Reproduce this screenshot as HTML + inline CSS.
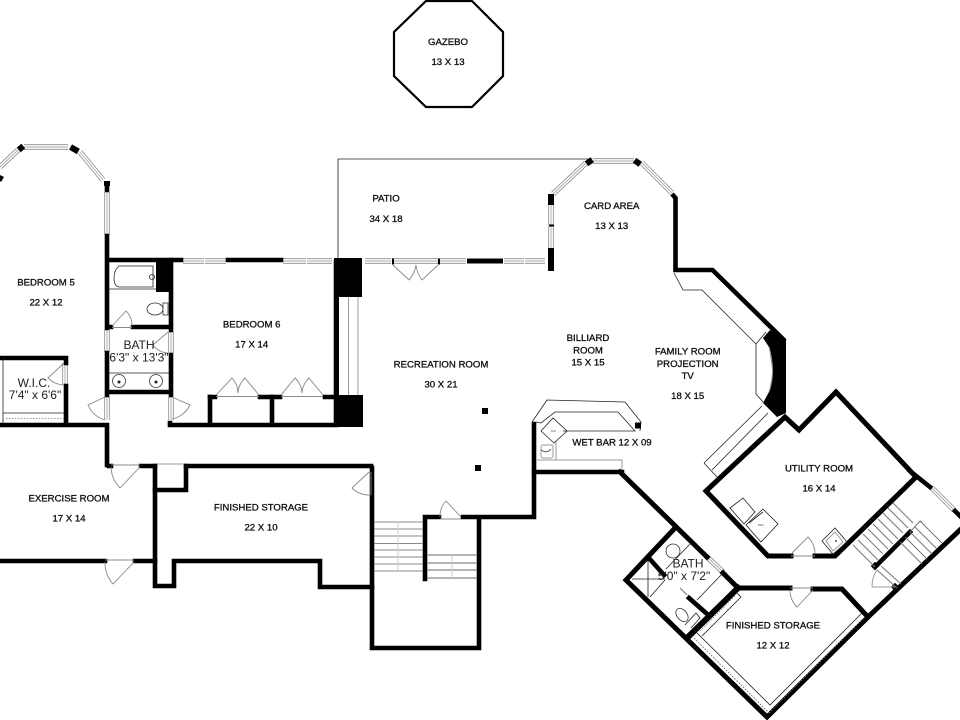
<!DOCTYPE html>
<html>
<head>
<meta charset="utf-8">
<style>
html,body{margin:0;padding:0;background:#fff;width:960px;height:720px;overflow:hidden}
svg{display:block}
text{font-family:"Liberation Sans",sans-serif;font-size:9.6px;fill:#111;stroke:#111;stroke-width:.32;text-anchor:middle}
text.n{font-size:12px;stroke:none;fill:#222}
text.t{font-size:3px;stroke:none;fill:#555}
.w{fill:none;stroke:#000;stroke-width:4.6;stroke-linejoin:miter;stroke-linecap:square}
.b{fill:#000;stroke:none}
.l{fill:none;stroke:#222;stroke-width:.8}
.g{fill:none;stroke:#999;stroke-width:1}
.d{fill:#fff;stroke:#888;stroke-width:.8}
.w1{fill:none;stroke:#8a8a8a;stroke-width:5.4}
.w2{fill:none;stroke:#fff;stroke-width:3.8}
.w3{fill:none;stroke:#aaa;stroke-width:.9}
.dot{fill:none;stroke:#777;stroke-width:.8;stroke-dasharray:1.5 1.5}
</style>
</head>
<body>
<svg width="960" height="720" viewBox="0 0 960 720" xmlns="http://www.w3.org/2000/svg">
<rect width="960" height="720" fill="#fff"/>
<defs>
<path id="win" d="M0 167L18 150M24 147H68M80 152L103 180M107 192V213M107 213V235M107 330V352M107 397V420M171 332V353M171 397V420M183 261H204M205 261H226M283 261H306M307 261H332M65 363V385M365 261H391M392 261H439M440 261H466M504 261H524M525 261H545M551 205V225M551 226V248M553 194L586 163M593 161H634M642 163L672 193M932 488L954 510M706 556L723 572"/>
</defs>

<!-- gazebo -->
<polygon points="426,1 472,1 503,32 503,76 472,107 426,107 394,76 394,32" fill="#fff" stroke="#000" stroke-width="2.2"/>

<!-- patio -->
<path d="M338 259V159H590" class="l" stroke-width="1"/>

<!-- windows -->
<use href="#win" class="w1"/>
<use href="#win" class="w2"/>
<use href="#win" class="w3"/>

<!-- walls: north west -->
<path class="w" d="M107 184V190M107 236V328M107 353V395"/>
<path class="w" d="M109 260H181M228 260H281"/>
<path class="w" d="M171 260V330M171 355V395"/>
<path class="w" d="M109 327H111M133 327H169"/>
<path class="w" d="M109 392H169"/>
<path class="w" d="M0 425H107V465M170 423V425H336"/>
<path class="w" d="M0 358H66V363M66 386V423"/>
<path class="w" d="M210 397V423M272 397V423M336 262V423"/>
<path class="w" d="M210 397H215M260 397H280M325 397H334"/>
<rect class="b" x="156" y="258" width="17" height="34"/>
<rect class="b" x="18" y="145" width="6" height="6" transform="rotate(-40 21 148)"/>
<rect class="b" x="70" y="146" width="9" height="6" transform="rotate(30 74 149)"/>
<rect class="b" x="104" y="181" width="6" height="5"/>
<polygon class="b" points="0,175 4,177 1,182 0,181"/>

<!-- central blocks -->
<rect class="b" x="334" y="258" width="28" height="39"/>
<rect class="b" x="334" y="395" width="29" height="32"/>
<rect class="b" x="334" y="297" width="5" height="98"/>
<path class="g" d="M348.5 297V395M358 297V395"/>
<rect class="b" x="467" y="258.5" width="36" height="5"/>
<rect class="b" x="392" y="258.5" width="2" height="6"/>
<rect class="b" x="438" y="258.5" width="2" height="6"/>
<rect class="b" x="548" y="248" width="6" height="23"/>
<rect class="b" x="548" y="194" width="6" height="11"/>
<rect class="b" x="549" y="224.5" width="5" height="2"/>
<rect class="b" x="586" y="159" width="7" height="6" transform="rotate(-35 589 162)"/>
<rect class="b" x="634" y="159" width="7" height="6" transform="rotate(35 637 162)"/>

<!-- east wall -->
<path class="w" d="M672 194L675.500 198V270H712.500L785 341" style="stroke-linecap:butt"/>
<polygon class="b" points="770,330 786,340 786,413 777,417 763,403 769,392 773,373 769,347 763,338"/>
<path class="l" d="M674 273L683 290H702L756 344V394L764 403M756 344L766 332"/>
<path class="g" d="M769 347Q776 372 769 392"/>
<path class="l" d="M704 463L762 406M712 470L768 413M704 463L717 477"/>

<!-- utility room -->
<path class="w" style="stroke-width:5" d="M791 556H768L706 491L785 417L799 430L836 392L916 477L835 556H815"/>
<path class="w" d="M910 471L930 487M955 511L960 516"/>
<path class="w" style="stroke-width:5" d="M962 528L868 617"/>
<path class="w" d="M910 532L875 567"/>
<rect class="b" x="872" y="563" width="6" height="6" transform="rotate(45 875 566)"/>
<rect class="b" x="892" y="584" width="6" height="6" transform="rotate(45 895 587)"/>

<!-- utility appliances -->
<polygon class="l" points="730,508 743,498 755,512 744,524" fill="#fff"/>
<polygon class="l" points="746,525 763,509 778,524 761,542" fill="#fff"/>
<path class="l" d="M749 523L763 512"/>
<text class="t" x="761" y="526">REF</text>
<polygon class="l" points="822,541 835,528 847,542 833,554"/>
<polygon class="g" points="826,541 835,532 843,542 833,551"/>
<circle cx="836" cy="541" r=".9" fill="#222"/>

<!-- stairs east -->
<path class="g" style="stroke:#777" d="M893 503L913 523M888 508L908 528M883 513L903 533M878 519L898 539M873 524L893 544M868 529L888 549M863 534L883 554M858 540L878 560M853 545L875 567M920 521L942 543M915 527L937 549M910 532L932 554M905 537L927 559M900 542L922 564"/>
<path class="g" style="stroke:#777" d="M910 532L920 521L922 522M877 570L897 588M881 566L901 584"/>
<path class="g" fill="none" d="M872 587H895M872 587Q872 577 877 570"/>

<!-- south east: lower storage and bath -->
<path class="w" style="stroke-width:5" d="M620 472L707 557M723 573L738 588H790M813 589H842L868 617L767 717L626 580L675 528"/>
<path class="w" style="stroke-width:6" d="M738 588L688 637"/>
<path class="w" d="M648 557L664 575M689 598L706 613"/>
<path class="l" d="M666 569L691 543M697 600L723 573M650 597L665 580M632 579H665M648 560V597"/>
<path class="g" style="stroke-width:1.5" d="M680 588L687 595"/>
<circle cx="673" cy="551" r="7" fill="#fff" stroke="#333" stroke-width=".8"/>
<ellipse cx="682" cy="615" rx="5" ry="7.500" fill="#fff" stroke="#333" stroke-width=".8" transform="rotate(-40 682 615)"/>
<path class="l" d="M685 625L696 613L700 618L691 628"/>
<path class="l" d="M736 592L741 597L702 636M695 631L770 705L862 613"/>
<path class="dot" d="M735 596L700 631M692 636L769 713M769 713L865 617"/>
<path class="dot" d="M692 636L768 712"/>

<!-- south center walls -->
<path class="w" d="M534 424V517H463M439 517H425V579"/>
<path class="w" d="M479 519V648H372V468"/>
<path class="w" d="M534 472H622"/>
<path class="w" d="M141 466H155M186 466V490H155V586H174V561H320V587H372"/>
<path class="w" d="M0 561H105M135 561H155"/>
<path class="w" d="M155 466V490M109 466H111M186 466H371"/>
<path class="g" d="M157 464H184"/>
<path class="g" style="stroke:#888" d="M374 522H423M374 529H423M374 536H423M374 543.500H423M374 550H423M374 557H423M374 564H423M374 571H423"/>
<path class="g" style="stroke:#888;stroke-width:1.200" d="M427 555H477M427 563H477M427 570H477M427 578H477"/>
<path class="g" style="stroke:#ccc" d="M398 522V571M452 555V578"/>

<!-- columns -->
<rect class="b" x="482" y="408" width="6" height="6"/>
<rect class="b" x="475" y="465" width="6" height="6"/>

<!-- wet bar -->
<path class="l" d="M532 422L547 400L625 402L641 422L640 431M536 422L541 423L555 412H618L635 431H563"/>
<rect class="b" x="635" y="422.500" width="6" height="6"/>
<polygon class="l" points="541,431 553,418 567,431 554,443" fill="#fff"/>
<text class="t" x="553.500" y="432">DW</text>
<rect x="541" y="445" width="12" height="13" rx="2" class="g"/>
<path class="g" style="stroke:#555" d="M541 450Q547 454 551 449"/>
<path class="g" d="M556 442V460M537 460H622V470"/>

<!-- bath fixtures NW -->
<path class="l" d="M109 289H156M153 266H119Q114 270 114 278Q114 286 119 287H153Z"/>
<circle cx="152" cy="277" r="2.500" class="l"/>
<ellipse cx="155" cy="309" rx="8" ry="6" fill="#fff" stroke="#333" stroke-width=".8"/>
<rect x="163" y="303" width="5" height="12" fill="#fff" stroke="#333" stroke-width=".8"/>
<path class="l" d="M109 373H169"/>
<circle cx="119" cy="381" r="6.500" fill="#fff" stroke="#333" stroke-width=".8"/>
<circle cx="156" cy="381" r="6.500" fill="#fff" stroke="#333" stroke-width=".8"/>
<circle cx="119" cy="382" r="1.500" fill="#222"/>
<circle cx="156" cy="382" r="1.500" fill="#222"/>
<path class="l" d="M3 358V425M3 413H64"/>
<path class="dot" d="M6 418.500H64"/>

<!-- doors -->
<g fill="none" stroke="#888" stroke-width=".9">
<path d="M112 326L126 311A20 20 0 0 1 132 326M112 327.500H132"/>
<path d="M168 332L153 345A20 20 0 0 0 168 353"/>
<path d="M64 363L48 378A24 24 0 0 0 64 385"/>
<path d="M105 397L88 405A26 26 0 0 0 105 420"/>
<path d="M172 397L190 405A26 26 0 0 1 172 419"/>
<path d="M216 395L232 378A22 22 0 0 1 238 393A22 22 0 0 1 245 378L259 395M216 396.500H259"/>
<path d="M281 395L295 378A22 22 0 0 1 302 393A22 22 0 0 1 309 378L323 395M281 396.500H323"/>
<path d="M393 265L409 280A30 30 0 0 0 416 265A30 30 0 0 0 422 280L438 265"/>
<path d="M140 467L120 488A32 32 0 0 1 111 467M111 465H140"/>
<path d="M134 562L113 584A32 32 0 0 1 105 562M105 560H134"/>
<path d="M369 472L352 488A24 24 0 0 0 369 495M371 472V495"/>
<path d="M461 517L446 501A22 22 0 0 0 440 517M440 519H461"/>
<path d="M792 553L808 537A24 24 0 0 1 815 553M791 556H815"/>
<path d="M813 590L797 607A24 24 0 0 1 790 590M790 588H813"/>
</g>

<!-- labels -->
<text x="448" y="45">GAZEBO</text><text x="448" y="65">13 X 13</text>
<text x="46" y="285.700">BEDROOM 5</text><text x="46" y="305.700">22 X 12</text>
<text x="251.700" y="327.700">BEDROOM 6</text><text x="251.700" y="347.700">17 X 14</text>
<text class="n" x="139" y="349">BATH</text><text class="n" x="139" y="361.700">6'3" x 13'3"</text>
<text class="n" x="34" y="387">W.I.C.</text><text class="n" x="35" y="399">7'4" x 6'6"</text>
<text x="386" y="201.700">PATIO</text><text x="386" y="222">34 X 18</text>
<text x="611.700" y="209">CARD AREA</text><text x="611.700" y="229">13 X 13</text>
<text x="588" y="341">BILLIARD</text><text x="588" y="353.300">ROOM</text><text x="588" y="365.700">15 X 15</text>
<text x="441" y="367.300">RECREATION ROOM</text><text x="441" y="387.700">30 X 21</text>
<text x="687.700" y="354.300">FAMILY ROOM</text><text x="687.700" y="367">PROJECTION</text><text x="687.700" y="379">TV</text><text x="687.700" y="399">18 X 15</text>
<text x="612" y="445.700">WET BAR 12 X 09</text>
<text x="819" y="471.700">UTILITY ROOM</text><text x="819" y="491.700">16 X 14</text>
<text x="69" y="501.700">EXERCISE ROOM</text><text x="69" y="521.700">17 X 14</text>
<text x="261" y="510.700">FINISHED STORAGE</text><text x="261" y="530.700">22 X 10</text>
<text class="n" x="688" y="567.700">BATH</text><text class="n" x="684" y="580">5'0" x 7'2"</text>
<text x="773" y="628.700">FINISHED STORAGE</text><text x="773" y="648.700">12 X 12</text>
</svg>
</body>
</html>
